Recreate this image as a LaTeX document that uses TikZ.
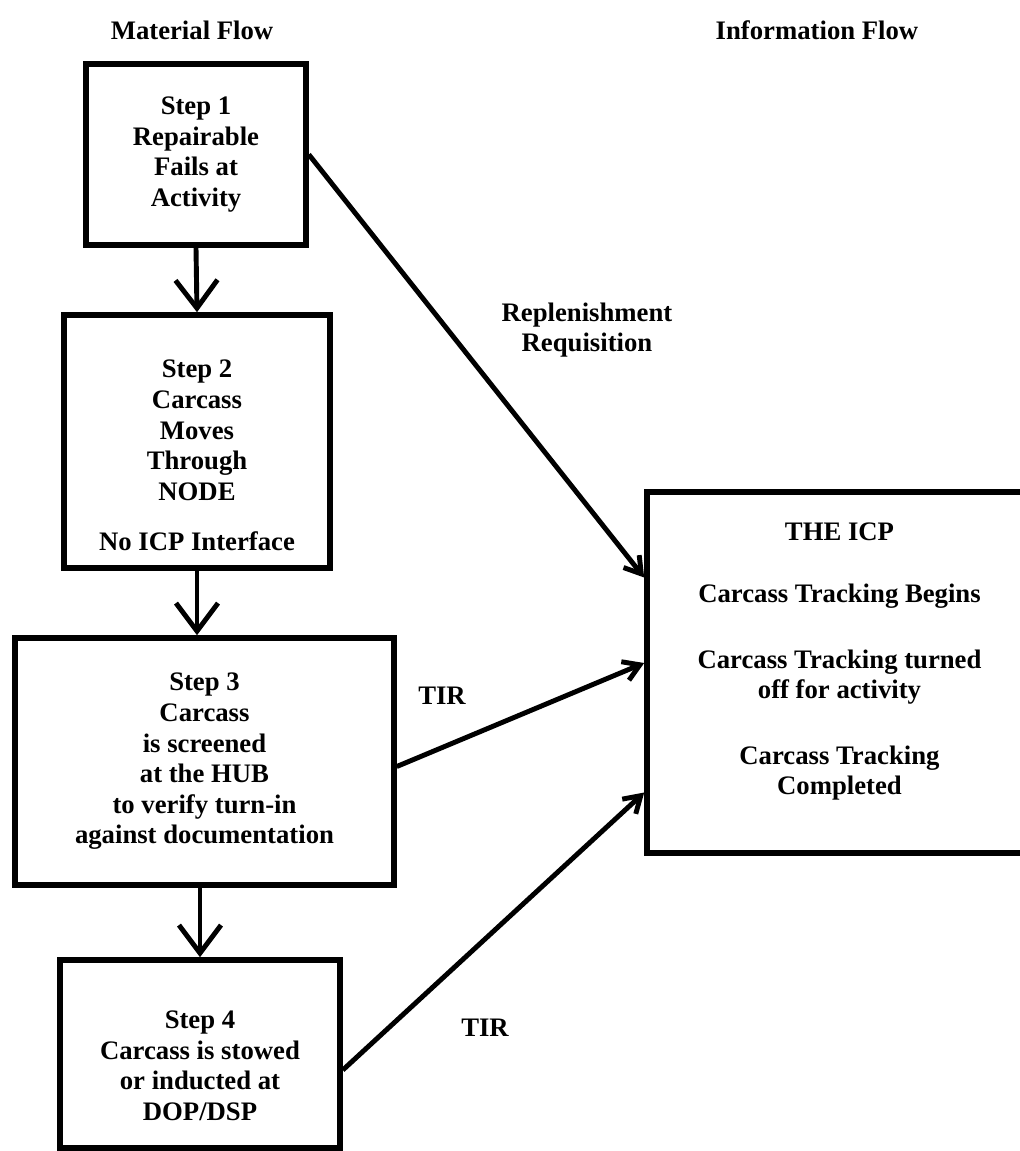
\documentclass[tikz,border=0pt]{standalone}
\usepackage{fontspec}
\setmainfont{Liberation Serif}
\usetikzlibrary{arrows.meta}

\begin{document}
\begin{tikzpicture}[
  every node/.style={font=\bfseries\fontsize{7.6}{8.7}\selectfont, align=center},
  stepbox/.style={draw, line width=1.6pt, inner sep=0pt},
  flow/.style={line width=1.4pt, -{Straight Barb[length=0.28cm, width=0.42cm, line width=1.4pt]}},
  info/.style={line width=1.4pt, -{Straight Barb[length=0.16cm, width=0.2cm, line width=1.4pt]}}]
\useasboundingbox (0,0) rectangle (10.2,-11.51);
\node (matflow) at (1.92,-0.30) {Material Flow};
\node (infoflow) at (8.17,-0.30) {Information Flow};
\node [stepbox, minimum width=2.2cm, minimum height=1.81cm] (step1) at (1.96,-1.545)
  {Step 1\\Repairable\\Fails at\\Activity};
\node [stepbox, minimum width=2.66cm, minimum height=2.53cm] (step2) at (1.97,-4.415)
  {\rule{0pt}{0.46cm}Step 2\\Carcass\\Moves\\Through\\NODE\\[0.2cm]No ICP Interface};
\node [stepbox, minimum width=3.79cm, minimum height=2.47cm] (step3) at (2.045,-7.615)
  {Step 3\\Carcass\\is screened\\at the HUB\\to verify turn-in\\against documentation};
\node [stepbox, minimum width=2.8cm, minimum height=1.88cm] (step4) at (2.0,-10.54)
  {\rule{0pt}{0.41cm}Step 4\\Carcass is stowed\\or inducted at\\DOP/DSP};
\node [stepbox, minimum width=3.85cm, minimum height=3.61cm] (icp) at (8.395,-6.725)
  {THE ICP\\[0.31cm]Carcass Tracking Begins\\[0.35cm]Carcass Tracking turned\\off for activity\\[0.35cm]Carcass Tracking\\Completed\rule[-0.27cm]{0pt}{0.1pt}};
\node (replen) at (5.87,-3.30) {Replenishment\\Requisition};
\node (tir1) at (4.42,-6.96) {TIR};
\node (tir2) at (4.85,-10.28) {TIR};
\draw [flow] (step1.south) to (step2.north);
\draw [flow] (step2.south) to (step2.south |- step3.north);
\draw [flow] (step3.south -| step4.north) to (step4.north);
\draw [info] (step1.east) to ([yshift=0.95cm]icp.west);
\draw [info] ([yshift=-0.05cm]step3.east) to ([yshift=0.095cm]icp.west);
\draw [info] ([yshift=-0.16cm]step4.east) to ([yshift=-1.2cm]icp.west);
\end{tikzpicture}
\end{document}
